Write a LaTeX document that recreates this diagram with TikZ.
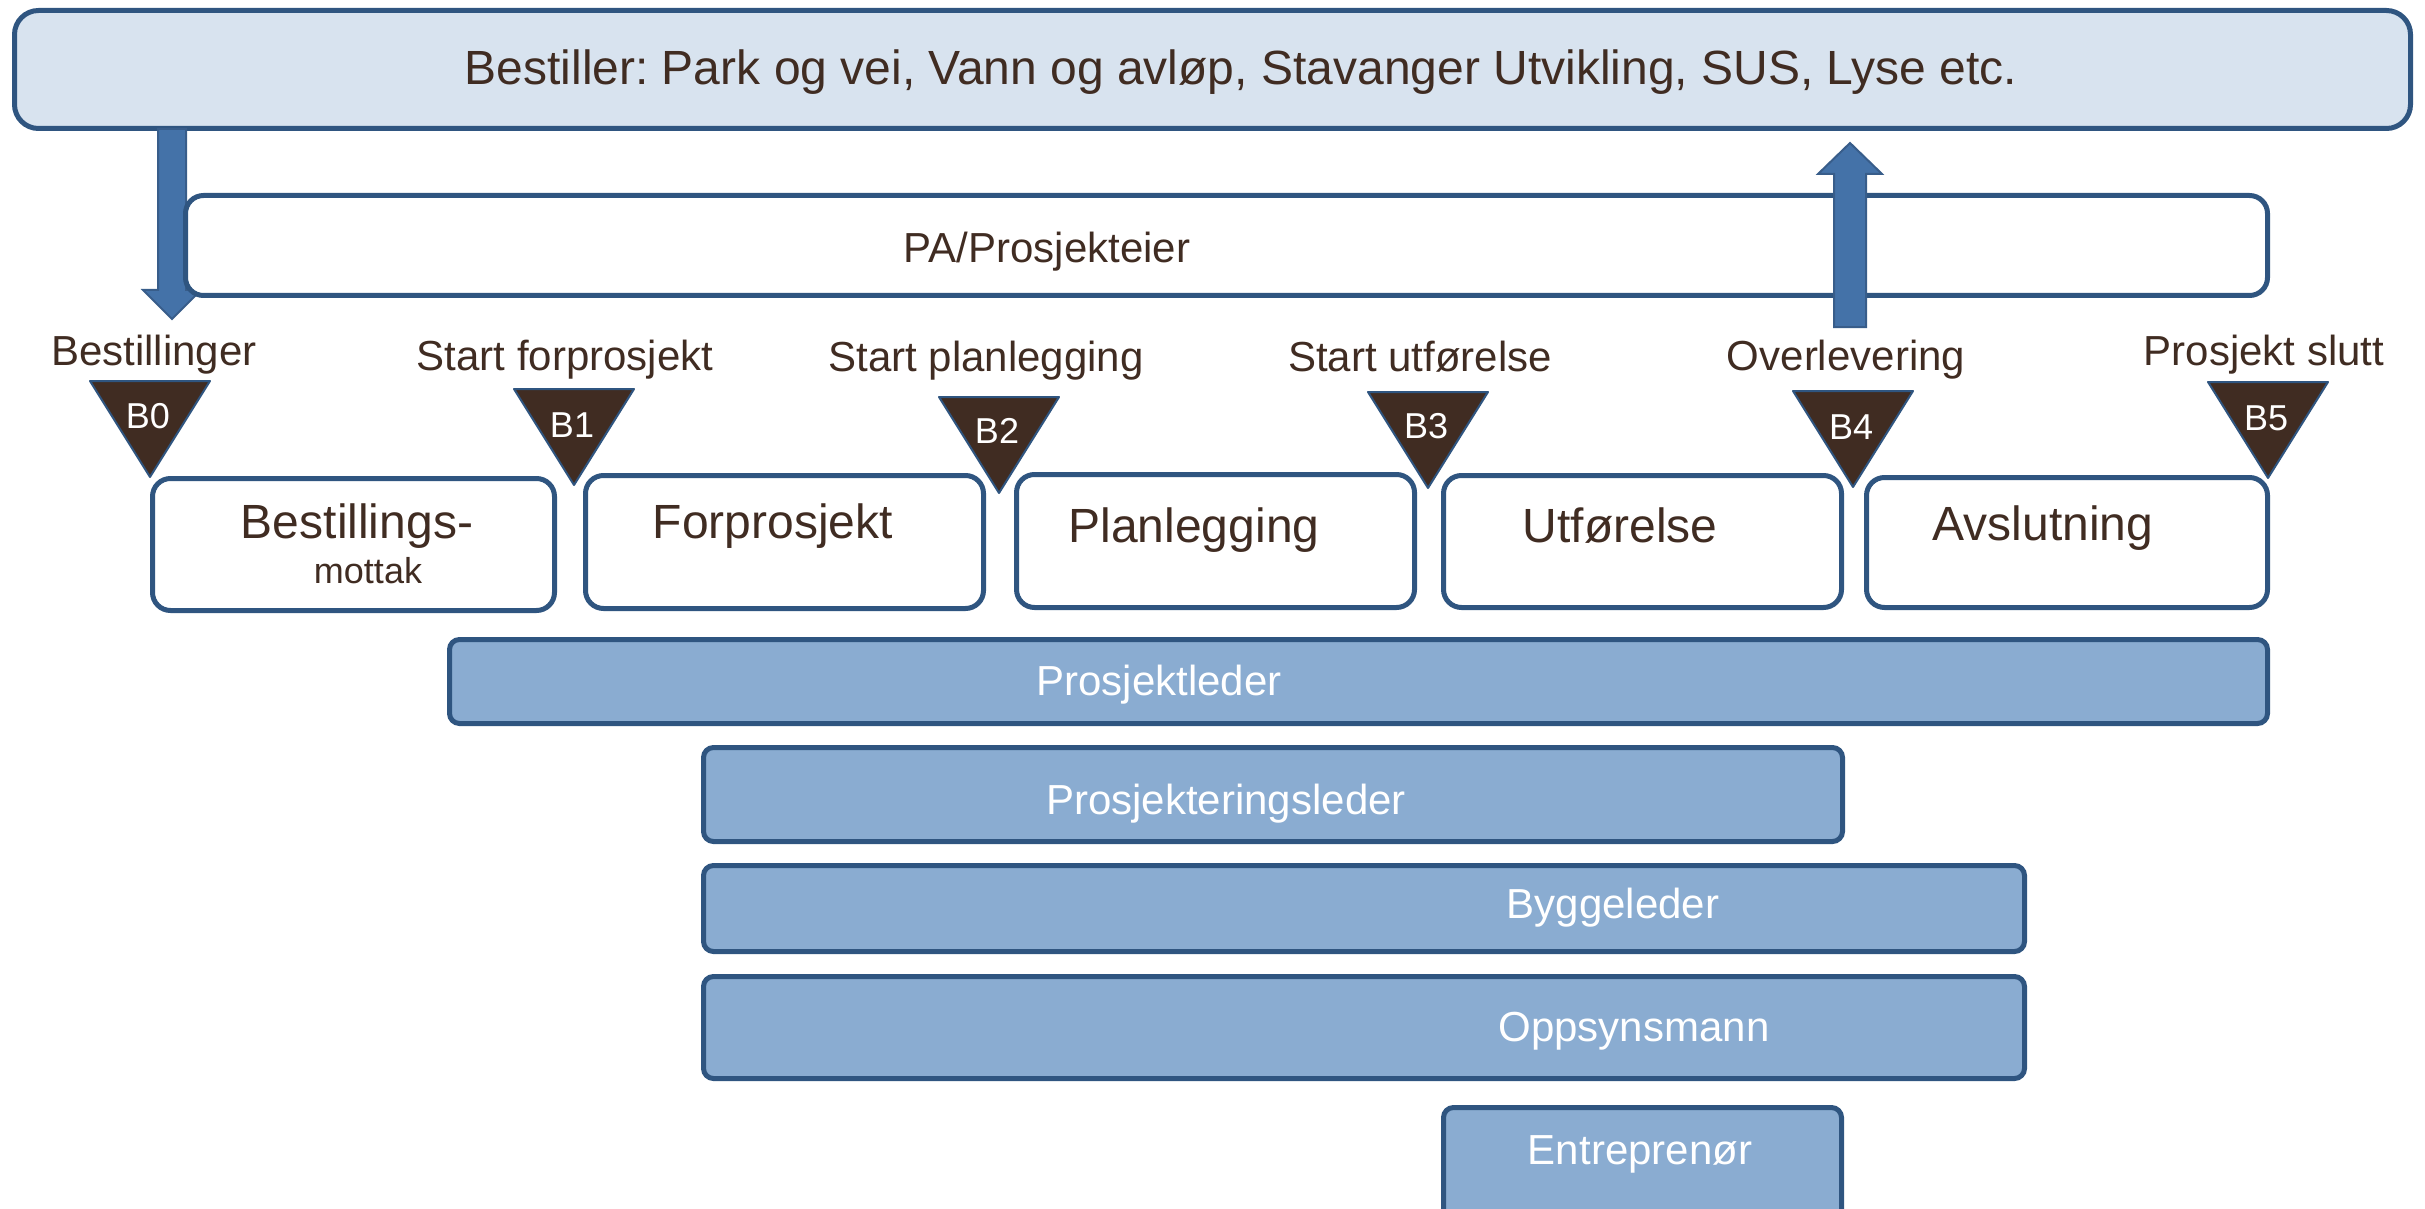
\documentclass[tikz,border=0pt]{standalone}
\usepackage{fontspec}
\setmainfont{Liberation Sans}
\usetikzlibrary{fit,calc}
\definecolor{bordblue}{RGB}{47,85,128}
\definecolor{topfill}{RGB}{216,227,239}
\definecolor{barfill}{RGB}{138,172,209}
\definecolor{arrowfill}{RGB}{68,114,168}
\definecolor{arrowline}{RGB}{56,93,138}
\definecolor{msbrown}{RGB}{64,44,34}
\definecolor{txtbrown}{RGB}{64,44,34}
\frenchspacing
\begin{document}
\begin{tikzpicture}[x=0.5pt,y=-0.5pt,
  frame/.style={draw=bordblue, line width=2.5pt, rounded corners=8pt, inner sep=0pt},
  topbox/.style={frame, fill=topfill, rounded corners=12pt},
  pabox/.style={frame, fill=white, rounded corners=9pt},
  phase/.style={frame, fill=white, rounded corners=9pt},
  rolebar/.style={frame, fill=barfill, rounded corners=5pt},
  txt/.style={text=txtbrown, inner sep=0pt, anchor=base},
  bigtxt/.style={txt, font=\fontsize{24}{28}\selectfont},
  midtxt/.style={txt, font=\fontsize{21}{25}\selectfont},
  smalltxt/.style={txt, font=\fontsize{18}{21}\selectfont},
  roletxt/.style={midtxt, text=white},
  mstone/.style={fill=msbrown, draw=bordblue, line width=1pt, line join=round},
  mslbl/.style={txt, text=white, font=\fontsize{18}{21}\selectfont},
  bigarrow/.style={fill=arrowfill, draw=arrowline, line width=1pt, line join=miter}
]
\useasboundingbox (0,0) rectangle (2425,1209);
\clip (0,0) rectangle (2425,1209);

% top orderer box
\node[topbox, fit={(14.5,10.5) (2410.5,128.5)}] (bestiller) {};
\node[bigtxt] (bestillerLbl) at (1241,85) {Bestiller: Park og vei, Vann og avløp, Stavanger Utvikling, SUS, Lyse etc.};

% down arrow
\coordinate (dnTop) at (172,129);
\coordinate (dnTip) at (172,319);
\draw[bigarrow] ($(dnTop)+(-14,0)$) -- ($(dnTop)+(14,0)$) -- ($(dnTip)+(14,-29)$) -- ($(dnTip)+(29,-29)$) -- (dnTip) -- ($(dnTip)+(-29,-29)$) -- ($(dnTip)+(-14,-29)$) -- cycle;

% PA box
\node[pabox, fit={(185.5,195.5) (2267.5,295.5)}] (pa) {};
\node[midtxt] (paLbl) at (1047,263) {PA/Prosjekteier};

% up arrow
\coordinate (upBot) at (1850,327);
\coordinate (upTip) at (1850,143);
\draw[bigarrow] ($(upBot)+(-16,0)$) -- ($(upBot)+(16,0)$) -- ($(upTip)+(16,31)$) -- ($(upTip)+(32,31)$) -- (upTip) -- ($(upTip)+(-32,31)$) -- ($(upTip)+(-16,31)$) -- cycle;

% phase boxes
\node[phase, fit={(152.5,478.5) (554.5,610.5)}] (p0) {};
\node[phase, fit={(585.5,475.5) (983.5,608.5)}] (p1) {};
\node[phase, fit={(1016.5,474.5) (1414.5,607.5)}] (p2) {};
\node[phase, fit={(1443.5,475.5) (1841.5,607.5)}] (p3) {};
\node[phase, fit={(1866.5,477.5) (2267.5,607.5)}] (p4) {};

\node[bigtxt] (p0a) at (357,538) {Bestillings-};
\node[smalltxt] (p0b) at (368,583) {mottak};
\node[bigtxt] (p1l) at (773,538) {Forprosjekt};
\node[bigtxt] (p2l) at (1194,542) {Planlegging};
\node[bigtxt] (p3l) at (1620,542) {Utførelse};
\node[bigtxt] (p4l) at (2043,540) {Avslutning};

% milestones
\foreach \n/\cx/\ty/\lb in {0/150/381/428, 1/574/389/437, 2/999/397/443, 3/1428/392/438, 4/1853/391/439, 5/2268/382/430}{
  \draw[mstone] (\cx-60,\ty) -- (\cx+60,\ty) -- (\cx,\ty+96) -- cycle;
  \node[mslbl] (ms\n) at (\cx-2,\lb) {B\n};
}

\node[midtxt] (m0) at (154,365) {Bestillinger};
\node[midtxt] (m1) at (565,370) {Start forprosjekt};
\node[midtxt] (m2) at (986,371) {Start planlegging};
\node[midtxt] (m3) at (1420,371) {Start utførelse};
\node[midtxt] (m4) at (1846,370) {Overlevering};
\node[midtxt] (m5) at (2264,365) {Prosjekt slutt};

% role bars
\node[rolebar, fit={(449.5,639.5) (2267.5,723.5)}] (r0) {};
\node[rolebar, fit={(703.5,747.5) (1842.5,841.5)}] (r1) {};
\node[rolebar, fit={(703.5,865.5) (2024.5,951.5)}] (r2) {};
\node[rolebar, fit={(703.5,976.5) (2024.5,1078.5)}] (r3) {};
\node[rolebar, fit={(1443.5,1107.5) (1841.5,1250)}] (r4) {};

\node[roletxt] (r0l) at (1159,695) {Prosjektleder};
\node[roletxt] (r1l) at (1226,814) {Prosjekteringsleder};
\node[roletxt] (r2l) at (1613,918) {Byggeleder};
\node[roletxt] (r3l) at (1634,1041) {Oppsynsmann};
\node[roletxt] (r4l) at (1640,1164) {Entreprenør};
\end{tikzpicture}
\end{document}
